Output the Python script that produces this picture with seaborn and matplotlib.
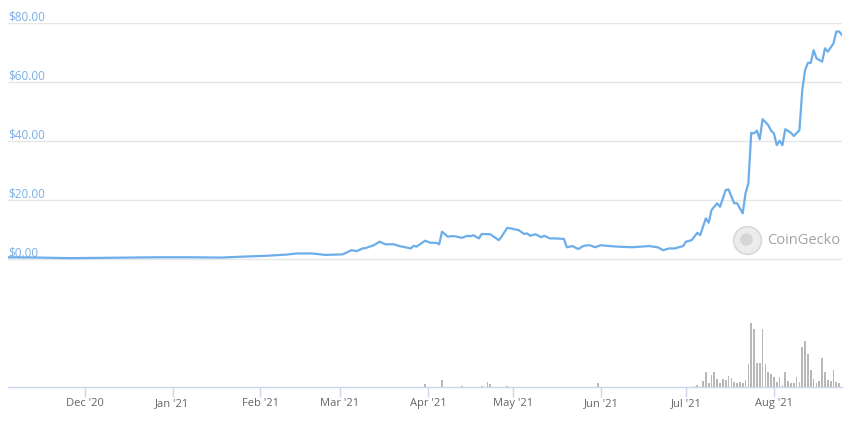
import matplotlib
matplotlib.use("Agg")
import matplotlib.pyplot as plt
import matplotlib.dates as mdates
from matplotlib.lines import Line2D
import seaborn as sns
import pandas as pd

# ---------------- data ----------------
price_dates = [
    "2020-11-04", "2020-11-15", "2020-11-26", "2020-12-06", "2020-12-17", "2020-12-27",
    "2021-01-07", "2021-01-18", "2021-01-28", "2021-02-03", "2021-02-10", "2021-02-14",
    "2021-02-19", "2021-02-24", "2021-03-02", "2021-03-04", "2021-03-05", "2021-03-07",
    "2021-03-09", "2021-03-10", "2021-03-13", "2021-03-15", "2021-03-17", "2021-03-20",
    "2021-03-22", "2021-03-26", "2021-03-27", "2021-03-28", "2021-03-31", "2021-04-02",
    "2021-04-04", "2021-04-05", "2021-04-06", "2021-04-08", "2021-04-10", "2021-04-13",
    "2021-04-15", "2021-04-16", "2021-04-17", "2021-04-19", "2021-04-20", "2021-04-23",
    "2021-04-26", "2021-04-27", "2021-04-29", "2021-05-01", "2021-05-03", "2021-05-05",
    "2021-05-06", "2021-05-07", "2021-05-09", "2021-05-10", "2021-05-11", "2021-05-12",
    "2021-05-14", "2021-05-16", "2021-05-19", "2021-05-20", "2021-05-22", "2021-05-24",
    "2021-05-26", "2021-05-28", "2021-05-30", "2021-06-01", "2021-06-04", "2021-06-07",
    "2021-06-12", "2021-06-18", "2021-06-21", "2021-06-23", "2021-06-25", "2021-06-27",
    "2021-06-30", "2021-07-01", "2021-07-03", "2021-07-05", "2021-07-06", "2021-07-08",
    "2021-07-09", "2021-07-10", "2021-07-12", "2021-07-13", "2021-07-15", "2021-07-16",
    "2021-07-18", "2021-07-19", "2021-07-21", "2021-07-22", "2021-07-23", "2021-07-24",
    "2021-07-25", "2021-07-26", "2021-07-27", "2021-07-28", "2021-07-30", "2021-07-31",
    "2021-08-01", "2021-08-02", "2021-08-03", "2021-08-04", "2021-08-05", "2021-08-07",
    "2021-08-08", "2021-08-10", "2021-08-11", "2021-08-12", "2021-08-13", "2021-08-14",
    "2021-08-15", "2021-08-16", "2021-08-18", "2021-08-19", "2021-08-20", "2021-08-22",
    "2021-08-23", "2021-08-24", "2021-08-25",
]
price_values = [
    0.6, 0.5, 0.3, 0.4, 0.5, 0.6,
    0.6, 0.5, 0.9, 1.1, 1.5, 1.9,
    1.9, 1.4, 1.6, 2.5, 3.0, 2.7,
    3.6, 3.7, 4.7, 5.9, 5.0, 5.0,
    4.4, 3.6, 4.5, 4.2, 6.2, 5.5,
    5.5, 5.0, 9.3, 7.6, 7.8, 7.2,
    7.9, 7.7, 8.1, 7.0, 8.5, 8.4,
    6.4, 7.6, 10.6, 10.2, 9.8, 8.5,
    8.7, 7.9, 8.4, 7.9, 7.4, 7.9,
    7.0, 7.0, 6.8, 4.0, 4.4, 3.4,
    4.5, 4.7, 4.0, 4.7, 4.4, 4.2,
    4.0, 4.4, 4.0, 3.0, 3.6, 3.6,
    4.4, 5.9, 6.4, 8.9, 8.1, 13.8,
    12.3, 16.6, 18.9, 17.7, 23.4, 23.6,
    18.9, 18.9, 15.5, 22.3, 25.7, 42.8,
    42.6, 43.5, 40.6, 47.4, 45.4, 43.5,
    42.6, 38.6, 40.1, 38.6, 44.0, 42.8,
    41.7, 43.7, 57.3, 64.1, 66.5, 66.5,
    70.8, 68.0, 66.9, 71.4, 70.3, 73.1,
    77.1, 77.1, 75.9,
]

vol_early_dates = ["2021-03-31", "2021-04-06", "2021-04-13", "2021-04-20", "2021-04-22",
                   "2021-04-23", "2021-04-29", "2021-05-31", "2021-07-04", "2021-07-05"]
vol_early_values = [3, 7, 1, 1, 5, 3, 1, 4, 1, 2]
vol_dense_start, vol_dense_end = "2021-07-07", "2021-08-24"
vol_dense_values = [6, 15, 4, 12, 15, 8, 4, 8, 7, 11, 9, 5, 4, 5, 4, 7, 23, 64, 58, 24,
                    24, 58, 23, 15, 13, 10, 5, 10, 2, 15, 6, 4, 4, 10, 5, 40, 46, 33, 17, 8,
                    4, 6, 29, 15, 7, 6, 17, 5, 4]

y_ticks = [0, 20, 40, 60, 80]
x_start, x_end = "2020-11-04", "2021-08-25"

# ---------------- style ----------------
sns.set_theme(style="white")
plt.rcParams["font.family"] = ["Open Sans", "DejaVu Sans"]

W, H = 850, 423
fig = plt.figure(figsize=(W / 100, H / 100), dpi=100)
fig.patch.set_facecolor("white")


def rect(x0, y0, x1, y1):
    return [x0 / W, 1 - y1 / H, (x1 - x0) / W, (y1 - y0) / H]


# price axes: 0 at y=259px, 80 at y=23px; extended slightly below 0
ax = fig.add_axes(rect(8, 23, 842, 262))
axv = fig.add_axes(rect(8, 317, 842, 387))

xmin, xmax = pd.Timestamp(x_start), pd.Timestamp(x_end)

# price line
sns.lineplot(x=pd.to_datetime(price_dates), y=price_values, ax=ax,
             color="#6caeea", linewidth=1.6, zorder=3)
ax.set_xlim(xmin, xmax)
ax.set_ylim(-1, 80)
ax.set_yticks(y_ticks)
ax.set_axisbelow(True)
ax.yaxis.grid(True, color="#e6e6e6", linewidth=1)
ax.xaxis.grid(False)
ax.tick_params(left=False, labelleft=False, bottom=False, labelbottom=False)
ax.set_xlabel("")
ax.set_ylabel("")
for s in ax.spines.values():
    s.set_visible(False)
for v in y_ticks:
    ax.annotate(f"${v:.2f}", xy=(0, v), xycoords=("axes fraction", "data"),
                xytext=(0, 2), textcoords="offset points", ha="left", va="baseline",
                fontsize=8.5, color="#7aaee6", zorder=2)

# volume bars
vol_dates = list(pd.to_datetime(vol_early_dates)) + list(pd.date_range(vol_dense_start, vol_dense_end))
vol_values = vol_early_values + vol_dense_values
axv.bar(vol_dates, vol_values, width=0.6, color="#b8b8b8", edgecolor="none")
axv.set_xlim(xmin, xmax)
axv.set_ylim(0, 70)
for k, s in axv.spines.items():
    s.set_visible(k == "bottom")
axv.spines["bottom"].set_color("#ccd6eb")
axv.spines["bottom"].set_linewidth(1)
axv.xaxis.set_major_locator(mdates.MonthLocator(bymonthday=1))
axv.xaxis.set_major_formatter(mdates.DateFormatter("%b '%y"))
axv.tick_params(axis="x", bottom=True, length=7, width=1, color="#ccd6eb",
                labelsize=8, labelcolor="#666666", pad=1)
axv.tick_params(axis="y", left=False, labelleft=False)
axv.grid(False)

# watermark
cx, cy = 747 / W, 1 - 240 / H
fig.add_artist(Line2D([cx], [cy], transform=fig.transFigure, marker="o", markersize=20,
                      markerfacecolor="#ececec", markeredgecolor="#d9d9d9", markeredgewidth=1.2))
fig.add_artist(Line2D([cx - 1.5 / W], [cy + 1 / H], transform=fig.transFigure, marker="o",
                      markersize=9, markerfacecolor="#d6d6d6", markeredgecolor="none"))
fig.text(767 / W, cy, "CoinGecko", ha="left", va="center", fontsize=10.5, color="#a3a3a3")

fig.savefig("out.png", dpi=100)
